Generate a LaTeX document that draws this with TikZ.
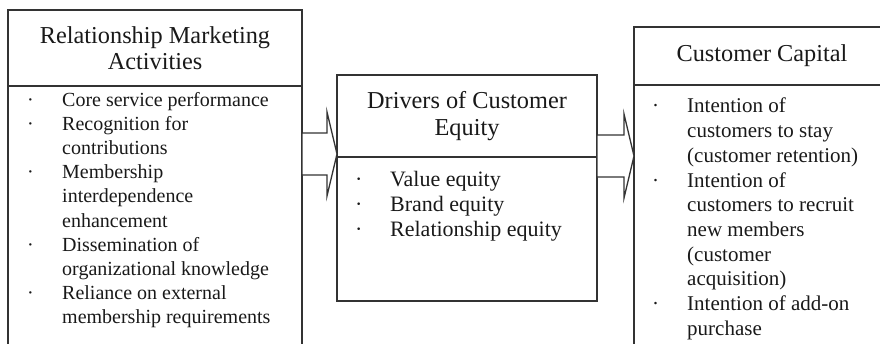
\documentclass[tikz,border=0pt]{standalone}
\usepackage{fontspec}
\setmainfont{Liberation Serif}
\usetikzlibrary{calc,positioning}
% hollow block arrow from #1 (tail) to #2 (tip)
\newcommand\blockarrow[2]{\draw[blockarr] ($(#1)+(0,-21)$) -- ($(#2)+(-10,-21)$) -- ($(#2)+(-10,-42)$) -- (#2) -- ($(#2)+(-10,42)$) -- ($(#2)+(-10,21)$) -- ($(#1)+(0,21)$) -- cycle;}

\tikzset{
  panel/.style={draw=black!80, line width=1.3pt, anchor=north west, inner sep=0pt, outer sep=0pt},
  heading/.style={align=center, inner sep=0pt, text=black!90, font=\fontsize{24.3}{26.5}\selectfont},
  listing/.style={anchor=north west, inner sep=0pt, align=left, text=black!90},
  blockarr/.style={draw=black!80, line width=1.3pt, line join=miter, fill=white}
}

\begin{document}
\begin{tikzpicture}[x=1pt, y=-1pt]
  \useasboundingbox (0,0) rectangle (880,343);
  \clip (0,0) rectangle (880,343);

  %%% boxes
  \node[panel, minimum width=294pt, minimum height=76pt] (acthead) at (8,10) {};
  \node[panel, minimum width=294pt, minimum height=280pt] (actbody) at (acthead.south west) {};

  \node[panel, minimum width=260pt, minimum height=82pt] (drvhead) at (337,75) {};
  \node[panel, minimum width=260pt, minimum height=144pt] (drvbody) at (drvhead.south west) {};

  \node[panel, minimum width=256pt, minimum height=58pt] (caphead) at (634,27) {};
  \node[panel, minimum width=256pt, minimum height=300pt] (capbody) at (caphead.south west) {};

  %%% titles
  \node[heading] (acttitle) at (acthead.center) {Relationship Marketing\\Activities};
  \node[heading] (drvtitle) at (drvhead.center) {Drivers of Customer\\Equity};
  \node[heading] (captitle) at (caphead.center) {Customer Capital};

  %%% lists
  \node[listing, font=\fontsize{20}{24.2}\selectfont] (actlist) at ($(actbody.north west)+(19,3)$) {%
    \begin{tabular}{@{}p{35pt}@{}l@{}}
    · & Core service performance\\
    · & Recognition for\\
      & contributions\\
    · & Membership\\
      & interdependence\\
      & enhancement\\
    · & Dissemination of\\
      & organizational knowledge\\
    · & Reliance on external\\
      & membership requirements
    \end{tabular}};

  \node[listing, font=\fontsize{22}{25}\selectfont] (drvlist) at ($(drvbody.north west)+(18,11.5)$) {%
    \begin{tabular}{@{}p{35pt}@{}l@{}}
    · & Value equity\\
    · & Brand equity\\
    · & Relationship equity
    \end{tabular}};

  \node[listing, font=\fontsize{21}{24.7}\selectfont] (caplist) at ($(capbody.north west)+(18,10.5)$) {%
    \begin{tabular}{@{}p{35pt}@{}l@{}}
    · & Intention of\\
      & customers to stay\\
      & (customer retention)\\
    · & Intention of\\
      & customers to recruit\\
      & new members\\
      & (customer\\
      & acquisition)\\
    · & Intention of add-on\\
      & purchase
    \end{tabular}};

  %%% arrows
  \coordinate (arrA) at (actbody.east |- 0,154);
  \coordinate (arrAtip) at (drvbody.west |- arrA);
  \coordinate (arrB) at (drvbody.east |- 0,156);
  \coordinate (arrBtip) at (capbody.west |- arrB);
  \blockarrow{arrA}{arrAtip}
  \blockarrow{arrB}{arrBtip}
\end{tikzpicture}
\end{document}
